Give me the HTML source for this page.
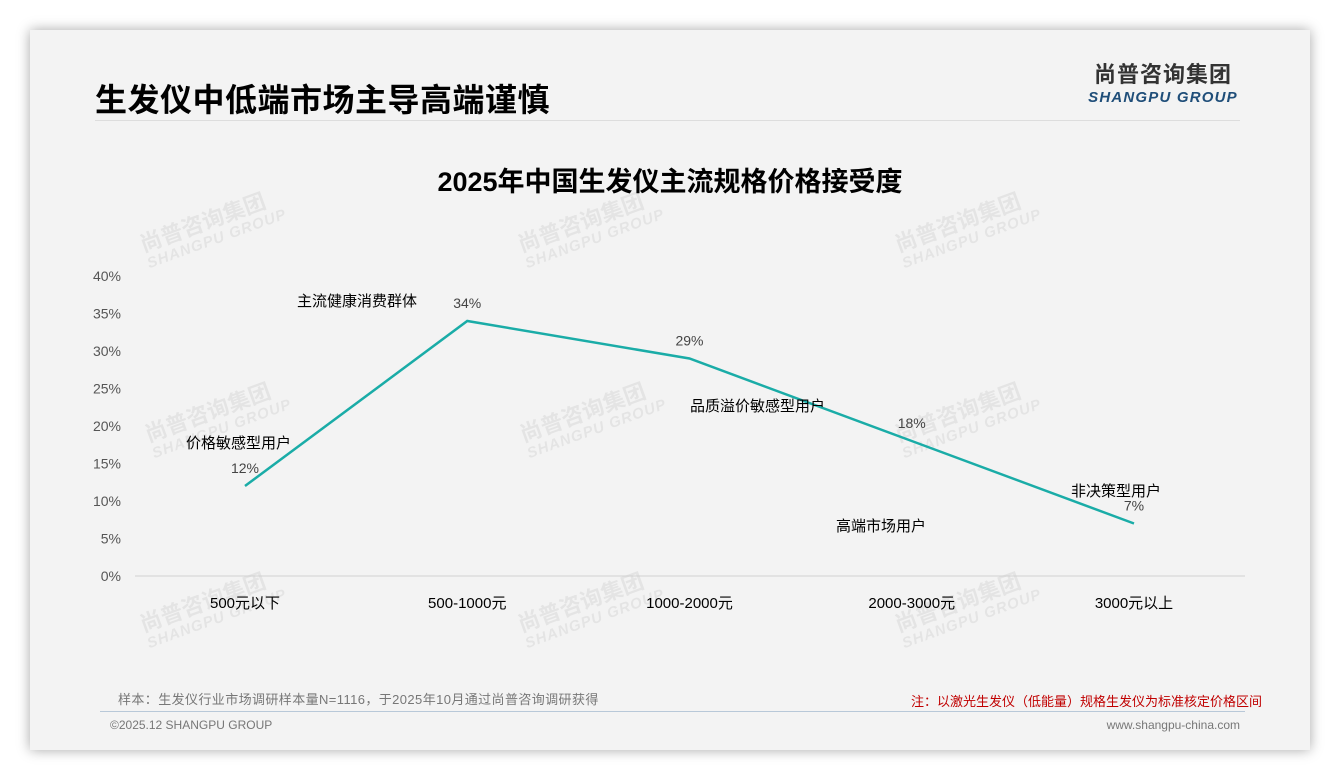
<!DOCTYPE html>
<html><head><meta charset="utf-8"><style>
body{margin:0;width:1340px;height:780px;background:#fff;font-family:"Liberation Sans","Noto Sans CJK SC",sans-serif;position:relative;overflow:hidden}
.card{position:absolute;left:30px;top:30px;width:1280px;height:720px;background:#f3f3f3;box-shadow:0 0 12px rgba(0,0,0,.35)}
.abs{position:absolute;white-space:nowrap}
.wm{position:absolute;color:rgba(0,0,0,.06);font-weight:bold;transform:rotate(-20deg);font-size:22px;line-height:20px}
.wm small{display:block;font-size:15px;font-style:italic;letter-spacing:1px}
</style></head><body>
<div class="card"></div>
<div class="abs" style="left:95px;top:75px;font-size:32px;letter-spacing:0.5px;font-weight:bold;color:#000">生发仪中低端市场主导高端谨慎</div>
<div class="abs" style="left:1088px;top:63px;text-align:center;line-height:23px;width:150px"><div style="font-size:22px;font-weight:bold;color:#333;letter-spacing:1px">尚普咨询集团</div><div style="font-size:15px;font-style:italic;font-weight:bold;color:#1f4e79;letter-spacing:1.2px">SHANGPU GROUP</div></div>
<div class="abs" style="left:95px;top:120px;width:1145px;height:1px;background:#ddd"></div>
<div class="abs" style="left:0;width:1340px;text-align:center;top:160px;font-size:27px;font-weight:bold;color:#000">2025年中国生发仪主流规格价格接受度</div>
<div class="wm" style="left:140px;top:210px">尚普咨询集团<small>SHANGPU GROUP</small></div>
<div class="wm" style="left:518px;top:210px">尚普咨询集团<small>SHANGPU GROUP</small></div>
<div class="wm" style="left:895px;top:210px">尚普咨询集团<small>SHANGPU GROUP</small></div>
<div class="wm" style="left:145px;top:400px">尚普咨询集团<small>SHANGPU GROUP</small></div>
<div class="wm" style="left:520px;top:400px">尚普咨询集团<small>SHANGPU GROUP</small></div>
<div class="wm" style="left:895px;top:400px">尚普咨询集团<small>SHANGPU GROUP</small></div>
<div class="wm" style="left:140px;top:590px">尚普咨询集团<small>SHANGPU GROUP</small></div>
<div class="wm" style="left:518px;top:590px">尚普咨询集团<small>SHANGPU GROUP</small></div>
<div class="wm" style="left:895px;top:590px">尚普咨询集团<small>SHANGPU GROUP</small></div>
<svg id="chart" width="1340" height="780" style="position:absolute;left:0;top:0"></svg>
<div class="abs" style="left:118px;top:689px;font-size:13px;letter-spacing:0.4px;color:#777">样本：生发仪行业市场调研样本量N=1116，于2025年10月通过尚普咨询调研获得</div>
<div class="abs" style="right:78px;top:691px;font-size:13px;color:#c00000">注：以激光生发仪（低能量）规格生发仪为标准核定价格区间</div>
<div class="abs" style="left:100px;top:711px;width:1145px;height:1px;background:#b8c8d8"></div>
<div class="abs" style="left:110px;top:718px;font-size:12px;color:#777">©2025.12 SHANGPU GROUP</div>
<div class="abs" style="right:100px;top:718px;font-size:12px;color:#777">www.shangpu-china.com</div>
<script>
const categories=["500元以下","500-1000元","1000-2000元","2000-3000元","3000元以上"];
const values=[12,34,29,18,7];
const yTicks=[0,5,10,15,20,25,30,35,40];
const notes=[["价格敏感型用户",186,443],["主流健康消费群体",297,301],["品质溢价敏感型用户",690,406],["高端市场用户",836,526],["非决策型用户",1071,491]];
const NS="http://www.w3.org/2000/svg",svg=document.getElementById('chart');
const x0=245,dx=222.25,yBase=576,py=7.5;
const X=i=>x0+i*dx,Y=v=>yBase-v*py;
function mk(t,a,txt){const e=document.createElementNS(NS,t);for(const k in a)e.setAttribute(k,a[k]);if(txt!=null)e.textContent=txt;svg.appendChild(e);return e;}
const ax=mk('line',{x1:135,x2:1245,y1:yBase,y2:yBase,stroke:'#d0d0d0'});


yTicks.forEach(t=>{const e=mk('text',{x:121,y:Y(t)+5,'text-anchor':'end','font-size':14,fill:'#555'},t+'%');

});
categories.forEach((c,i)=>{const e=mk('text',{x:X(i),y:608,'text-anchor':'middle','font-size':15,fill:'#000'},c);

});
const line=mk('polyline',{points:values.map((v,i)=>X(i)+','+Y(v)).join(' '),fill:'none',stroke:'#1aaca7','stroke-width':2.5});


values.forEach((v,i)=>{const e=mk('text',{x:X(i),y:Y(v)-13,'text-anchor':'middle','font-size':14,fill:'#444'},v+'%');

});
notes.forEach(n=>{const e=mk('text',{x:n[1],y:n[2]+5,'font-size':15,fill:'#000'},n[0]);

});
</script>
</body></html>
